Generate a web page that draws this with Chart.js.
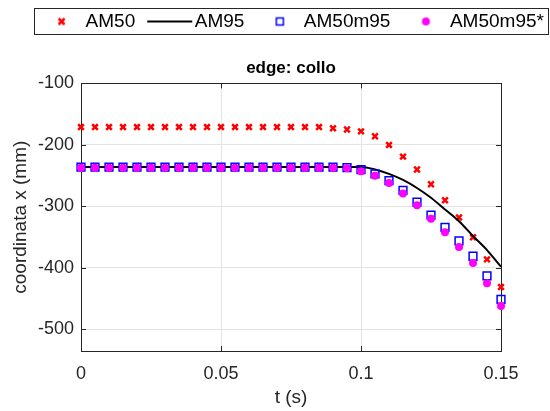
<!DOCTYPE html>
<html>
<head>
<meta charset="utf-8">
<script src="https://cdn.jsdelivr.net/npm/chart.js@4.4.1/dist/chart.umd.min.js"></script>
<style>
  html, body { margin: 0; padding: 0; background: #fff; }
  #grafico { display: block; }
</style>
</head>
<body>
<canvas id="grafico" width="550" height="411"></canvas>
<script>
var tempi = [0, 0.005, 0.01, 0.015, 0.02, 0.025, 0.03, 0.035, 0.04, 0.045,
	0.05, 0.055, 0.06, 0.065, 0.07, 0.075, 0.08, 0.085, 0.09, 0.095,
	0.1, 0.105, 0.11, 0.115, 0.12, 0.125, 0.13, 0.135, 0.14, 0.145, 0.15];

var am50 = [-171, -171, -171, -171, -171, -171, -171, -171, -171, -171,
	-171, -171, -171, -171, -171, -171, -171, -171, -173, -175,
	-178, -186, -200, -219, -240, -264, -290, -318, -350, -386, -431];

var am95 = [-236, -236, -236, -236, -236, -236, -236, -236, -236, -236,
	-236, -236, -236, -236, -236, -236, -236, -236, -236, -236,
	-236, -240, -247, -257, -270, -286, -305, -324, -348, -371, -398];

var am50m95 = [-236, -236, -236, -236, -236, -236, -236, -236, -236, -236,
	-236, -236, -236, -236, -236, -236, -236, -236, -236, -237,
	-240, -247, -258, -274, -293, -314, -334, -356, -381, -413, -451];

var am50m95s = [-237, -237, -237, -237, -237, -237, -237, -237, -237, -237,
	-237, -237, -237, -237, -237, -237, -237, -237, -237, -238,
	-243, -250, -262, -279, -298, -320, -342, -366, -392, -425, -462];

var tickX = [0, 0.05, 0.1, 0.15];
var tickY = [-500, -400, -300, -200, -100];
var etichette = ['AM50', 'AM95', 'AM50m95', 'AM50m95*'];

var FONT = "'Liberation Sans', Arial, Helvetica, sans-serif";
var GRIGIO = '#262626';

function punti(valori) {
	return tempi.map(function(t, i) {
		return { x: t, y: valori[i] };
	});
}

// simboli della legenda: immagine 54x16 centrata sul box (largo 38)
function creaSimbolo(tipo) {
	var c = document.createElement('canvas');
	c.width = 54;
	c.height = 16;
	var g = c.getContext('2d');
	var cx = 31.5, cy = 8;
	if (tipo === 'x') {
		g.strokeStyle = '#ff0000';
		g.lineWidth = 2.5;
		g.beginPath();
		g.moveTo(cx - 3, cy - 3); g.lineTo(cx + 3, cy + 3);
		g.moveTo(cx + 3, cy - 3); g.lineTo(cx - 3, cy + 3);
		g.stroke();
	} else if (tipo === 'linea') {
		g.strokeStyle = '#000';
		g.lineWidth = 2;
		g.beginPath();
		g.moveTo(8, cy); g.lineTo(53, cy);
		g.stroke();
	} else if (tipo === 'quadrato') {
		g.strokeStyle = '#0000ff';
		g.lineWidth = 1.5;
		g.strokeRect(cx - 3.5, cy - 3.5, 7, 7);
	} else {
		g.fillStyle = '#ff00ff';
		g.beginPath();
		g.arc(cx, cy, 4, 0, Math.PI * 2);
		g.fill();
	}
	return c;
}

var simboli = [creaSimbolo('x'), creaSimbolo('linea'), creaSimbolo('quadrato'), creaSimbolo('punto')];

var cornice = {
	id: 'cornice',
	afterLayout: function(chart) {
		var a = chart.chartArea;
		var centro = (a.left + a.right) / 2;
		[chart.legend, chart.titleBlock].forEach(function(box) {
			var d = centro - (box.left + box.right) / 2;
			box.left += d;
			box.right += d;
		});
	},
	beforeDatasetsDraw: function(chart) {
		var ctx = chart.ctx;
		var a = chart.chartArea;
		var sx = chart.scales.x, sy = chart.scales.y;
		var L = 5;
		ctx.save();
		ctx.strokeStyle = GRIGIO;
		ctx.lineWidth = 1;
		ctx.beginPath();
		tickX.forEach(function(v) {
			var px = Math.round(sx.getPixelForValue(v)) + 0.5;
			ctx.moveTo(px, a.bottom); ctx.lineTo(px, a.bottom - L);
			ctx.moveTo(px, a.top); ctx.lineTo(px, a.top + L);
		});
		tickY.forEach(function(v) {
			var py = Math.round(sy.getPixelForValue(v)) + 0.5;
			ctx.moveTo(a.left, py); ctx.lineTo(a.left + L, py);
			ctx.moveTo(a.right, py); ctx.lineTo(a.right - L, py);
		});
		ctx.stroke();
		ctx.strokeRect(Math.round(a.left) + 0.5, Math.round(a.top) + 0.5,
			Math.round(a.right - a.left), Math.round(a.bottom - a.top));
		ctx.restore();
	},
	afterDraw: function(chart) {
		var boxes = chart.legend.legendHitBoxes;
		if (!boxes || !boxes.length) return;
		var sx = Infinity, dx = -Infinity;
		boxes.forEach(function(b) {
			sx = Math.min(sx, b.left);
			dx = Math.max(dx, b.left + b.width);
		});
		var ctx = chart.ctx;
		ctx.save();
		ctx.strokeStyle = GRIGIO;
		ctx.lineWidth = 1;
		ctx.strokeRect(Math.round(sx - 4) + 0.5, Math.round(boxes[0].top - 4) + 0.5,
			Math.round(dx - sx + 8), Math.round(boxes[0].height + 7));
		ctx.restore();
	}
};

var grafico = new Chart(document.getElementById('grafico').getContext('2d'), {
	type: 'scatter',
	data: {
		datasets: [{
			label: etichette[0],
			data: punti(am50),
			pointStyle: 'crossRot',
			pointRadius: 4,
			borderWidth: 2.5,
			borderColor: '#ff0000',
			backgroundColor: '#ff0000',
			showLine: false,
			clip: false,
			order: 4
		}, {
			label: etichette[1],
			data: punti(am95),
			showLine: true,
			pointRadius: 0,
			borderWidth: 2,
			borderColor: '#000000',
			backgroundColor: '#000000',
			cubicInterpolationMode: 'monotone',
			clip: false,
			order: 3
		}, {
			label: etichette[2],
			data: punti(am50m95),
			pointStyle: 'rect',
			pointRadius: 5.5,
			borderWidth: 1.5,
			borderColor: '#0000ff',
			backgroundColor: 'rgba(0,0,0,0)',
			showLine: false,
			clip: false,
			order: 2
		}, {
			label: etichette[3],
			data: punti(am50m95s),
			pointStyle: 'circle',
			pointRadius: 4,
			borderWidth: 0,
			borderColor: '#ff00ff',
			backgroundColor: '#ff00ff',
			showLine: false,
			clip: false,
			order: 1
		}]
	},
	options: {
		responsive: false,
		animation: false,
		layout: { padding: 0 },
		plugins: {
			legend: {
				display: true,
				position: 'top',
				weight: 3000,
				labels: {
					usePointStyle: true,
					pointStyleWidth: 38,
					padding: 12,
					color: '#000',
					font: { family: FONT, size: 19 },
					generateLabels: function(chart) {
						return chart.data.datasets.map(function(ds, i) {
							return {
								text: ds.label,
								pointStyle: simboli[i],
								datasetIndex: i,
								hidden: false,
								lineWidth: 0,
								fontColor: '#000'
							};
						});
					}
				}
			},
			title: {
				display: true,
				text: 'edge: collo',
				color: '#000',
				font: { family: FONT, size: 17, weight: 'bold' },
				padding: { top: 17, bottom: 5 }
			},
			tooltip: { enabled: false }
		},
		scales: {
			x: {
				type: 'linear',
				min: 0,
				max: 0.15,
				afterFit: function(scale) { scale.height = 60; },
				afterBuildTicks: function(scale) {
					scale.ticks = tickX.map(function(v) { return { value: v }; });
				},
				ticks: {
					color: GRIGIO,
					font: { family: FONT, size: 18 },
					padding: 12,
					maxRotation: 0,
					callback: function(v) { return String(v); }
				},
				grid: { color: '#e3e3e3', drawTicks: false },
				border: { display: false },
				title: {
					display: true,
					text: 't (s)',
					color: GRIGIO,
					font: { family: FONT, size: 19 },
					padding: { top: 0, bottom: 2 }
				}
			},
			y: {
				type: 'linear',
				min: -535,
				max: -100,
				afterFit: function(scale) { scale.width = 81; },
				afterBuildTicks: function(scale) {
					scale.ticks = tickY.map(function(v) { return { value: v }; });
				},
				ticks: {
					color: GRIGIO,
					font: { family: FONT, size: 18 },
					padding: 7,
					callback: function(v) { return String(v); }
				},
				grid: { color: '#e3e3e3', drawTicks: false },
				border: { display: false },
				title: {
					display: true,
					text: 'coordinata x (mm)',
					color: GRIGIO,
					font: { family: FONT, size: 19 },
					padding: { top: 9, bottom: 0 }
				}
			},
			// asse vuoto a destra, solo per il margine
			margine: {
				type: 'linear',
				position: 'right',
				min: -535,
				max: -100,
				afterFit: function(scale) { scale.width = 49; },
				ticks: { display: false },
				grid: { display: false, drawTicks: false },
				border: { display: false }
			}
		}
	},
	plugins: [cornice]
});
</script>
</body>
</html>
